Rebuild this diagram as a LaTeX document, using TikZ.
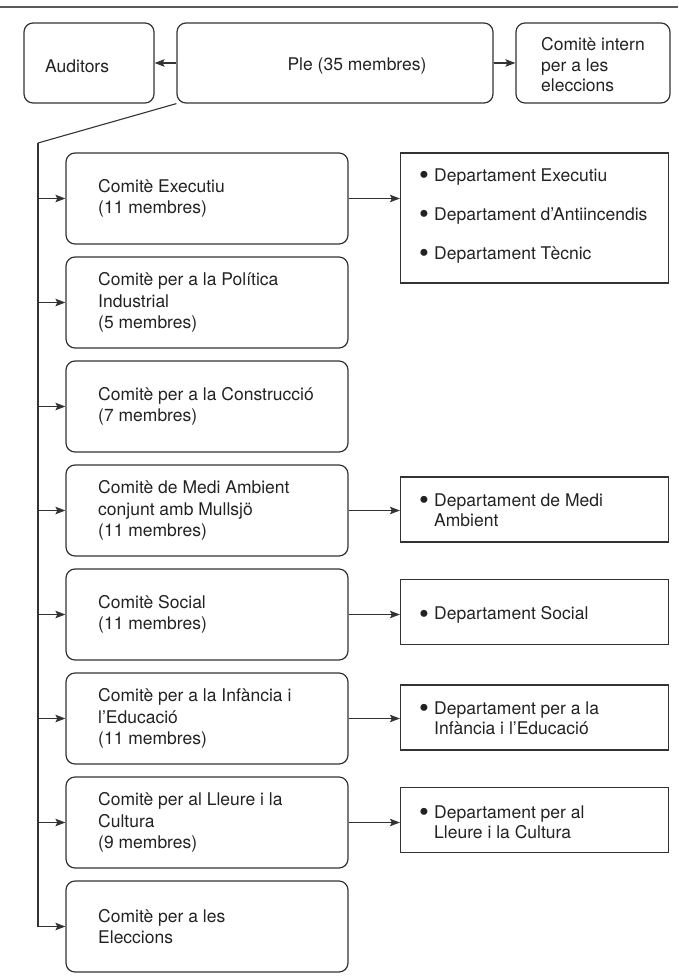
\documentclass[tikz,border=0pt]{standalone}
\usepackage{fontspec}
\setmainfont{TeX Gyre Heros}
\usetikzlibrary{arrows.meta}
\definecolor{ln}{HTML}{333333}
\definecolor{tx}{HTML}{222222}
\begin{document}
\begin{tikzpicture}[x=1pt,y=-1pt,
  font=\fontsize{17.5}{21.5}\selectfont, text=tx,
  rbox/.style={draw=ln, line width=1.2pt, rounded corners=9pt, inner sep=0pt},
  cbox/.style={rbox, minimum width=282pt, minimum height=91pt},
  dbox/.style={draw=ln, line width=1.2pt, inner sep=0pt, minimum width=268pt},
  lbl/.style={anchor=west, align=left, inner sep=0pt},
  arr/.style={draw=ln, line width=1.1pt, -{Stealth[length=10pt,width=7.5pt,inset=2pt]}},
  ln/.style={draw=ln, line width=1.1pt}]
\useasboundingbox (0,0) rectangle (678,980);
\draw[line width=2pt, color=black!65] (0,7) -- (678,7);

% top row
\node[rbox, minimum width=130pt, minimum height=80pt] (aud) at (89,63) {};
\node[lbl] (audt) at (45,66) {Auditors};
\node[rbox, minimum width=316pt, minimum height=80pt] (ple) at (335,63) {};
\node[anchor=center, inner sep=0pt] (plet) at (357,66) {Ple (35 membres)};
\node[rbox, minimum width=154pt, minimum height=80pt] (int) at (593,63) {};
\node[lbl, font=\fontsize{17.5}{20.5}\selectfont] (intt) at (541,65) {Comitè intern\\per a les\\eleccions};
\draw[arr] (ple) -- (aud);
\draw[arr] (ple) -- (int);

% committees
\newcommand{\comm}[3]{%
  \node[cbox] (c#1) at (207,#2) {};
  \node[lbl] (ct#1) at (98,#2) {#3};}
\comm{1}{198.5}{Comitè Executiu\\(11 membres)}
\comm{2}{302.5}{Comitè per a la Política\\Industrial\\(5 membres)}
\comm{3}{406.5}{Comitè per a la Construcció\\(7 membres)}
\comm{4}{510.5}{Comitè de Medi Ambient\\conjunt amb Mullsjö\\(11 membres)}
\comm{5}{614.5}{Comitè Social\\(11 membres)}
\comm{6}{718.5}{Comitè per a la Infància i\\l’Educació\\(11 membres)}
\comm{7}{822.5}{Comitè per al Lleure i la\\Cultura\\(9 membres)}
\comm{8}{926.5}{Comitè per a les\\Eleccions}

% trunk
\coordinate (bend) at (38,143);
\draw[ln] (ple.south west) -- (bend);
\foreach \i in {1,...,8} { \draw[arr] (bend) |- (c\i.west); }

% departments
\newcommand{\bul}{\makebox[15pt][l]{\raisebox{-0.2em}{\scalebox{1.6}{•}}}}
\node[dbox, minimum height=130pt] (d1) at (534.5,218) {};
\node[lbl] (dt1) at (419,216) {\bul Departament Executiu\\[17.5pt]\bul Departament d’Antiincendis\\[17.5pt]\bul Departament Tècnic};
\node[dbox, minimum height=65pt] (d4) at (534.5,509.5) {};
\node[lbl, font=\fontsize{17.5}{20}\selectfont] (dt4) at (419,510) {\bul Departament de Medi\\\hspace*{15pt}Ambient};
\node[dbox, minimum height=65pt] (d5) at (534.5,612) {};
\node[lbl] (dt5) at (419,615) {\bul Departament Social};
\node[dbox, minimum height=65pt] (d6) at (534.5,717.5) {};
\node[lbl, font=\fontsize{17.5}{20}\selectfont] (dt6) at (419,718) {\bul Departament per a la\\\hspace*{15pt}Infància i l’Educació};
\node[dbox, minimum height=65pt] (d7) at (534.5,820) {};
\node[lbl, font=\fontsize{17.5}{20}\selectfont] (dt7) at (419,822) {\bul Departament per al\\\hspace*{15pt}Lleure i la Cultura};

\draw[arr] (c1.east) -- (c1.east -| d1.west);
\draw[arr] (c4.east) -- (c4.east -| d4.west);
\draw[arr] (c5.east) -- (c5.east -| d5.west);
\draw[arr] (c6.east) -- (c6.east -| d6.west);
\draw[arr] (c7.east) -- (c7.east -| d7.west);
\end{tikzpicture}
\end{document}
